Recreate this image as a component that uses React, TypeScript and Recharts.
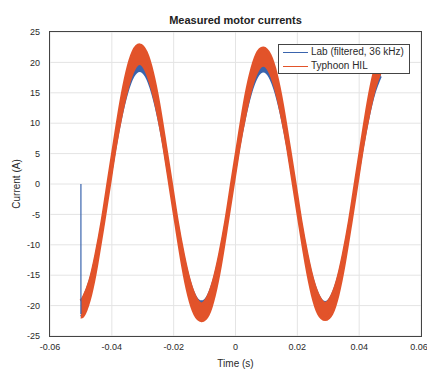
import React from 'react';
import { ComposedChart, Area, Line, XAxis, YAxis, CartesianGrid, Legend } from 'recharts';

// sample times (s)
const time = [
  -0.05, -0.049, -0.047, -0.045, -0.043, -0.041, -0.039, -0.037, -0.035, -0.033,
  -0.031, -0.029, -0.027, -0.025, -0.023, -0.021, -0.019, -0.017, -0.015, -0.013,
  -0.011, -0.009, -0.007, -0.005, -0.003, -0.001, 0.001, 0.003, 0.005, 0.007,
  0.009, 0.011, 0.013, 0.015, 0.017, 0.019, 0.021, 0.023, 0.025, 0.027,
  0.029, 0.031, 0.033, 0.035, 0.037, 0.039, 0.041, 0.043, 0.045, 0.047,
];

// Typhoon HIL current, ripple band (A)
const hilLow = [
  -21.8, -21.3, -18.2, -13.2, -7.0, -0.5, 6.1, 11.6, 16.0, 18.9,
  19.9, 18.9, 16.0, 11.7, 6.1, -0.5, -7.0, -13.3, -18.3, -21.4,
  -22.4, -21.5, -18.3, -13.3, -7.0, -0.5, 6.0, 11.5, 15.9, 18.7,
  19.6, 18.7, 15.9, 11.5, 6.0, -0.5, -7.0, -13.2, -18.2, -21.3,
  -22.2, -21.3, -18.2, -13.2, -7.0, -0.5, 6.1, 11.6, 16.0, 18.8,
];
const hilHigh = [
  -19.3, -18.6, -16.0, -11.6, -6.1, 0.5, 7.0, 13.3, 18.4, 21.7,
  22.8, 21.6, 18.3, 13.3, 7.0, 0.5, -6.1, -11.6, -16.0, -18.8,
  -19.8, -18.8, -16.0, -11.6, -6.1, 0.5, 6.9, 13.2, 18.1, 21.3,
  22.3, 21.2, 18.1, 13.1, 6.9, 0.5, -6.1, -11.6, -16.0, -18.7,
  -19.7, -18.7, -16.0, -11.6, -6.1, 0.5, 7.0, 13.3, 18.3, 21.5,
];

// Lab (filtered) current band (A)
const labLow = [
  -21.8, -20.8, -17.7, -12.8, -6.8, -0.7, 5.4, 10.8, 15.0, 17.7,
  18.6, 17.7, 15.0, 10.8, 5.4, -0.7, -6.8, -12.8, -17.7, -20.8,
  -21.7, -20.8, -17.7, -12.8, -6.8, -0.7, 5.4, 10.7, 14.9, 17.6,
  18.5, 17.6, 14.9, 10.7, 5.4, -0.7, -6.8, -12.8, -17.7, -20.9,
  -21.9, -20.9, -17.7, -12.8, -6.8, -0.7, 5.4, 10.8, 15.0, 17.7,
];
const labHigh = [
  -19.3, -18.4, -15.6, -11.3, -5.8, 0.1, 6.3, 11.9, 16.2, 19.0,
  20.0, 19.0, 16.2, 11.9, 6.3, 0.1, -5.8, -11.3, -15.6, -18.4,
  -19.3, -18.4, -15.6, -11.3, -5.8, 0.1, 6.3, 11.8, 16.1, 18.9,
  19.9, 18.9, 16.1, 11.8, 6.3, 0.1, -5.8, -11.3, -15.6, -18.4,
  -19.4, -18.4, -15.6, -11.3, -5.8, 0.1, 6.3, 11.9, 16.2, 19.0,
];

// start-up jump of the lab trace
const spikeTime = [-0.05, -0.05];
const spikeValue = [0, -21.4];

const xTicks = [-0.06, -0.04, -0.02, 0, 0.02, 0.04, 0.06];
const yTicks = [-25, -20, -15, -10, -5, 0, 5, 10, 15, 20, 25];

const BLUE = '#3a64ad';
const ORANGE = '#e2532a';
const FRAME = '#444';
const TEXT = '#2a2a2a';
const FONT = '"Liberation Sans", Arial, sans-serif';

const data = time.map((t, i) => ({
  t,
  lab: [labLow[i], labHigh[i]],
  hil: [hilLow[i], hilHigh[i]],
}));
const spike = spikeTime.map((t, i) => ({ t, v: spikeValue[i] }));

const fmtX = (v: number) => (v === 0 ? '0' : String(v));

const LegendBox = (props: any) => {
  const items = (props.payload || []).filter((p: any) => p.type !== 'none');
  return (
    <div
      style={{
        background: '#fff',
        border: `1px solid ${FRAME}`,
        boxSizing: 'border-box',
        height: 30,
        padding: '0 4px',
        fontFamily: FONT,
        fontSize: 10,
        color: TEXT,
        lineHeight: '14px',
      }}
    >
      {items.map((p: any) => (
        <div key={p.value} style={{ display: 'flex', alignItems: 'center' }}>
          <span style={{ display: 'inline-block', width: 25, height: 0, borderTop: `1.5px solid ${p.color}`, marginRight: 3 }} />
          <span>{p.value}</span>
        </div>
      ))}
    </div>
  );
};

export default function App() {
  return (
    <div style={{ position: 'relative', width: 427, height: 372, background: '#fff' }}>
      <style>{'body{margin:0}'}</style>
      <div
        style={{
          position: 'absolute',
          left: 50,
          width: 371,
          top: 14,
          textAlign: 'center',
          fontFamily: FONT,
          fontWeight: 'bold',
          fontSize: 11,
          color: '#222',
        }}
      >
        Measured motor currents
      </div>
      <ComposedChart width={427} height={372} data={data} margin={{ top: 32, right: 6, bottom: 0, left: 0 }}>
        <CartesianGrid stroke="#e4e4e4" />
        <XAxis
          dataKey="t"
          type="number"
          domain={[-0.06, 0.06]}
          ticks={xTicks}
          tickFormatter={fmtX}
          tickLine={false}
          axisLine={false}
          height={36}
          tick={{ fontSize: 9, fill: TEXT, fontFamily: FONT }}
          label={{
            content: (p: any) => (
              <text x={p.viewBox.x + p.viewBox.width / 2} y={367} textAnchor="middle" fontSize={10} fill={TEXT} fontFamily={FONT}>
                Time (s)
              </text>
            ),
          }}
        />
        <YAxis
          type="number"
          domain={[-25, 25]}
          ticks={yTicks}
          tickLine={false}
          axisLine={false}
          width={50}
          tickMargin={4}
          tick={{ fontSize: 9, fill: TEXT, fontFamily: FONT }}
          label={{
            content: (p: any) => (
              <text
                x={0}
                y={0}
                transform={`translate(20, ${p.viewBox.y + p.viewBox.height / 2}) rotate(-90)`}
                textAnchor="middle"
                fontSize={10}
                fill={TEXT}
                fontFamily={FONT}
              >
                Current (A)
              </text>
            ),
          }}
        />
        <Area
          dataKey="lab"
          name="Lab (filtered, 36 kHz)"
          type="natural"
          stroke={BLUE}
          strokeWidth={2}
          fill={BLUE}
          fillOpacity={1}
          isAnimationActive={false}
          dot={false}
          activeDot={false}
        />
        <Line
          data={spike}
          dataKey="v"
          type="linear"
          stroke={BLUE}
          strokeWidth={1.2}
          dot={false}
          legendType="none"
          isAnimationActive={false}
        />
        <Area
          dataKey="hil"
          name="Typhoon HIL"
          type="natural"
          stroke={ORANGE}
          strokeWidth={4}
          fill={ORANGE}
          fillOpacity={1}
          isAnimationActive={false}
          dot={false}
          activeDot={false}
        />
        <Legend
          layout="vertical"
          align="center"
          verticalAlign="middle"
          wrapperStyle={{ left: 278, top: 44, width: 132 }}
          content={<LegendBox />}
        />
      </ComposedChart>
      {/* axes box */}
      <div
        style={{
          position: 'absolute',
          left: 49,
          top: 31,
          width: 371,
          height: 304,
          border: `1.5px solid ${FRAME}`,
          pointerEvents: 'none',
        }}
      />
    </div>
  );
}
